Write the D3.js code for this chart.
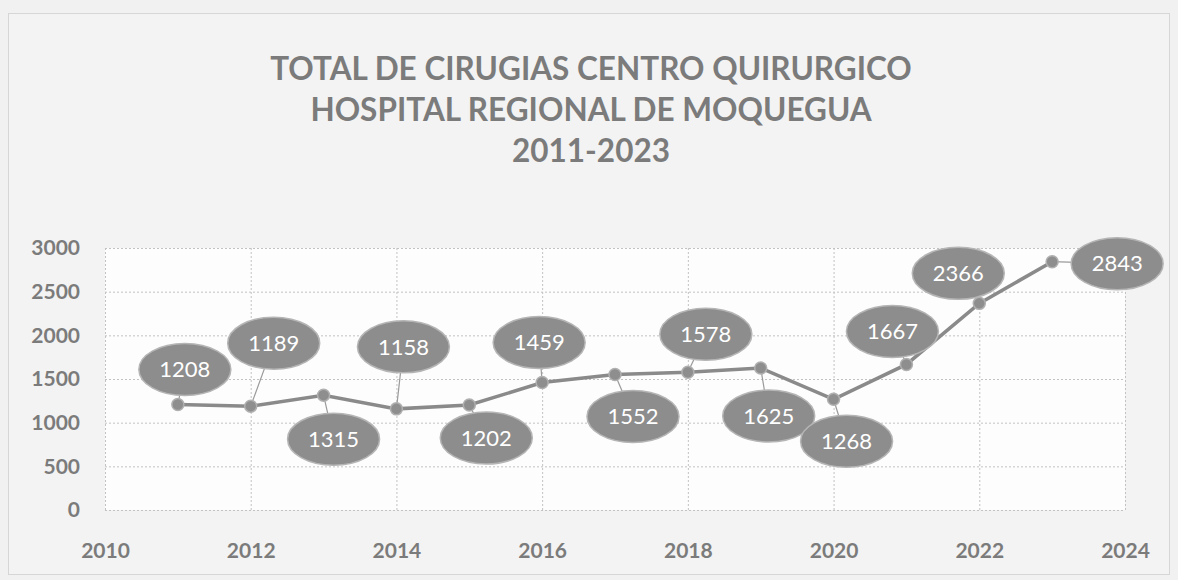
<!DOCTYPE html>
<html>
<head>
<meta charset="utf-8">
<script src="https://cdn.jsdelivr.net/npm/d3@7"></script>
<style>
  html, body { margin: 0; padding: 0; background: #f1f1f1; }
  svg { display: block; }
</style>
</head>
<body>
<div id="chart"></div>
<script>
const years = [2011, 2012, 2013, 2014, 2015, 2016, 2017, 2018, 2019, 2020, 2021, 2022, 2023]
const surgeries = [1208, 1189, 1315, 1158, 1202, 1459, 1552, 1578, 1625, 1268, 1667, 2366, 2843]
const titleLines = ["TOTAL DE CIRUGIAS CENTRO QUIRURGICO", "HOSPITAL REGIONAL DE MOQUEGUA", "2011-2023"]
const xTicks = [2010, 2012, 2014, 2016, 2018, 2020, 2022, 2024]
const yTicks = [0, 500, 1000, 1500, 2000, 2500, 3000]

// where each data label bubble sits relative to its point (px)
const labelOffsets = [
  [7, -35], [23, -63], [10, 44], [7, -62], [17, 33], [-3, -40], [18, 42],
  [18, -38], [8, 48], [13, 42], [-14, -33], [-21, -30], [65, 2]
]

const textColor = "#7b7b7b"
const lineColor = "#8a8a8a"
const bubbleColor = "#8d8d8d"
const gridColor = "#c2c2c2"
const fontFamily = "Lato, 'Open Sans', sans-serif"

const dataset = years.map((y, i) => ({ year: y, value: surgeries[i], off: labelOffsets[i] }))
const xAccessor = d => d.year
const yAccessor = d => d.value

let dimensions = {
  width: 1178,
  height: 580,
  margin: { top: 248, right: 53, bottom: 70, left: 105 },
}
dimensions.boundedWidth = dimensions.width - dimensions.margin.left - dimensions.margin.right
dimensions.boundedHeight = dimensions.height - dimensions.margin.top - dimensions.margin.bottom

const wrapper = d3.select("#chart")
  .append("svg")
    .attr("width", dimensions.width)
    .attr("height", dimensions.height)

// outer chart frame
wrapper.append("rect")
  .attr("x", 8.5).attr("y", 13.5)
  .attr("width", 1161).attr("height", 561)
  .attr("fill", "#f3f3f3")
  .attr("stroke", "#d6d6d6")

wrapper.append("g")
  .selectAll("text")
  .data(titleLines)
  .join("text")
    .attr("x", 591)
    .attr("y", (d, i) => [80, 121, 162][i])
    .attr("text-anchor", "middle")
    .style("font-family", fontFamily)
    .style("font-weight", 700)
    .style("font-size", "31.5px")
    .style("fill", textColor)
    .text(d => d)

const bounds = wrapper.append("g")
  .attr("transform", `translate(${dimensions.margin.left}, ${dimensions.margin.top})`)

bounds.append("rect")
  .attr("width", dimensions.boundedWidth)
  .attr("height", dimensions.boundedHeight)
  .attr("fill", "#fdfdfd")

const xScale = d3.scaleLinear()
  .domain([2010, 2024])
  .range([0, dimensions.boundedWidth])

const yScale = d3.scaleLinear()
  .domain([0, 3000])
  .range([dimensions.boundedHeight, 0])

// gridlines
const yAxisGenerator = d3.axisLeft(yScale)
  .tickValues(yTicks)
  .tickFormat(d3.format("d"))
  .tickSize(-dimensions.boundedWidth)
  .tickPadding(25)

const yAxis = bounds.append("g")
  .call(yAxisGenerator)
  .call(g => g.select(".domain").remove())
  .call(g => g.selectAll(".tick line")
    .attr("stroke", gridColor)
    .attr("stroke-dasharray", "2,2"))
  .call(g => g.selectAll(".tick text")
    .style("font-family", fontFamily)
    .style("font-weight", 700)
    .style("font-size", "21px")
    .style("fill", textColor))

const xAxisGenerator = d3.axisBottom(xScale)
  .tickValues(xTicks)
  .tickFormat(d3.format("d"))
  .tickSize(-dimensions.boundedHeight)
  .tickPadding(33)

const xAxis = bounds.append("g")
  .attr("transform", `translate(0, ${dimensions.boundedHeight})`)
  .call(xAxisGenerator)
  .call(g => g.select(".domain").remove())
  .call(g => g.selectAll(".tick line")
    .attr("stroke", gridColor)
    .attr("stroke-dasharray", "2,2"))
  .call(g => g.selectAll(".tick text")
    .style("font-family", fontFamily)
    .style("font-weight", 700)
    .style("font-size", "21px")
    .style("fill", textColor))

// leader lines under everything else
bounds.append("g")
  .selectAll("line")
  .data(dataset)
  .join("line")
    .attr("x1", d => xScale(xAccessor(d)))
    .attr("y1", d => yScale(yAccessor(d)))
    .attr("x2", d => xScale(xAccessor(d)) + d.off[0])
    .attr("y2", d => yScale(yAccessor(d)) + d.off[1])
    .attr("stroke", "#9a9a9a")
    .attr("stroke-width", 1.2)

const lineGenerator = d3.line()
  .x(d => xScale(xAccessor(d)))
  .y(d => yScale(yAccessor(d)))

bounds.append("path")
  .attr("d", lineGenerator(dataset))
  .attr("fill", "none")
  .attr("stroke", lineColor)
  .attr("stroke-width", 3.5)

bounds.append("g")
  .selectAll("circle")
  .data(dataset)
  .join("circle")
    .attr("cx", d => xScale(xAccessor(d)))
    .attr("cy", d => yScale(yAccessor(d)))
    .attr("r", 6)
    .attr("fill", "#8e8e8e")
    .attr("stroke", "#b0b0b0")
    .attr("stroke-width", 1.5)

const labels = bounds.append("g")
  .selectAll("g")
  .data(dataset)
  .join("g")
    .attr("transform", d => `translate(${xScale(xAccessor(d)) + d.off[0]}, ${yScale(yAccessor(d)) + d.off[1]})`)

labels.append("ellipse")
  .attr("rx", 46)
  .attr("ry", 26)
  .attr("fill", bubbleColor)
  .attr("stroke", "#b5b5b5")
  .attr("stroke-width", 1.5)

labels.append("text")
  .attr("text-anchor", "middle")
  .attr("dy", "0.35em")
  .style("font-family", fontFamily)
  .style("font-size", "22px")
  .style("fill", "#ffffff")
  .text(d => d.value)
</script>
</body>
</html>
